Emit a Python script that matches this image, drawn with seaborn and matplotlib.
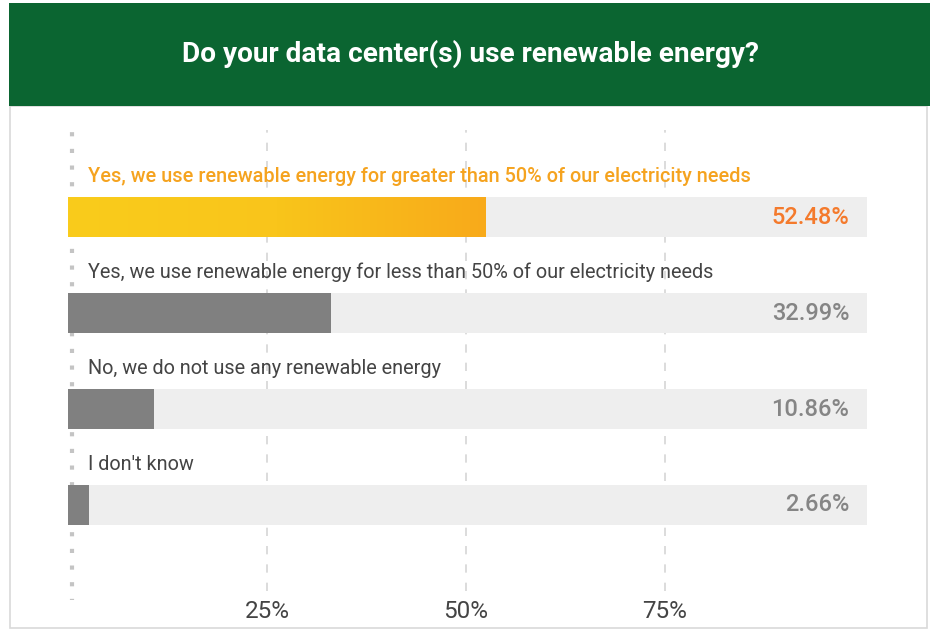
import numpy as np
import pandas as pd
import matplotlib
matplotlib.use("Agg")
import matplotlib.pyplot as plt
from matplotlib.patches import Rectangle
from matplotlib.colors import LinearSegmentedColormap
import seaborn as sns

# Survey answers and their shares (%)
answers = [
    "Yes, we use renewable energy for greater than 50% of our electricity needs",
    "Yes, we use renewable energy for less than 50% of our electricity needs",
    "No, we do not use any renewable energy",
    "I don't know",
]
shares = [52.48, 32.99, 10.86, 2.66]
tick_values = [25, 50, 75]
tick_labels = ["25%", "50%", "75%"]
title = "Do your data center(s) use renewable energy?"

sns.set_theme(style="white")
plt.rcParams["font.family"] = ["Roboto", "DejaVu Sans"]

W, H = 930, 632
fig = plt.figure(figsize=(W / 100, H / 100), dpi=100)
fig.patch.set_facecolor("white")

# Header band and card outline
bg = fig.add_axes([0, 0, 1, 1])
bg.set_xlim(0, W)
bg.set_ylim(H, 0)
bg.axis("off")
bg.add_patch(Rectangle((10, 106), 917, 522, facecolor="white",
                       edgecolor="#d9d9d9", lw=1.2))
bg.add_patch(Rectangle((9, 3), 921, 103, facecolor="#0b6531", edgecolor="none"))
bg.text(470, 54, title, color="white", fontsize=20.2, fontweight="bold",
        ha="center", va="center")

# Chart area in pixel terms
XMAX = 100.4
x0_px, x1_px = 68, 867
top_px, bot_px = 130, 600
ax = fig.add_axes([x0_px / W, 1 - bot_px / H, (x1_px - x0_px) / W, (bot_px - top_px) / H])
ax.set_facecolor("none")

df = pd.DataFrame({"answer": answers, "share": shares, "track": [XMAX] * len(answers)})
bar_w = 40 / 96

sns.barplot(data=df, y="answer", x="track", orient="h", color="#eeeeee",
            width=bar_w, ax=ax, saturation=1, linewidth=0)
sns.barplot(data=df, y="answer", x="share", orient="h", color="#808080",
            width=bar_w, ax=ax, saturation=1, linewidth=0)

ax.set_xlim(0, XMAX)
c0 = -(217 - top_px) / 96
ax.set_ylim(3 + (bot_px - 505) / 96, c0)

# Gradient fill for the leading answer
lead = ax.patches[len(answers)]
lead.set_facecolor("none")
bx, by = lead.get_x(), lead.get_y()
bw, bh = lead.get_width(), lead.get_height()
grad = np.linspace(0, 1, 256).reshape(1, -1)
cmap = LinearSegmentedColormap.from_list("lead", ["#facc1c", "#f9c51b", "#f8aa1a"])
img = ax.imshow(grad, cmap=cmap, aspect="auto",
                extent=(bx, bx + bw, by + bh, by), zorder=3)
img.set_clip_path(lead)

# Gridlines and left baseline
for t in tick_values:
    ax.axvline(t, ymin=0.02, color="#d6d6d6", lw=1.2, ls=(0, (5, 6)), zorder=0)
ax.axvline(0.5, ymin=-0.006, color="#c4c4c4", lw=3, ls=(0, (1, 3)), zorder=0)

# Answer labels and value labels
for i, (lab, v) in enumerate(zip(answers, shares)):
    lead_row = i == 0
    ax.text(2.5, i - 0.425, lab, fontsize=14.3,
            color="#f5a31f" if lead_row else "#444444",
            fontweight="medium" if lead_row else "normal",
            ha="left", va="center", zorder=5)
    ax.text(98.2, i, f"{v:.2f}%", fontsize=17, fontweight="medium",
            color="#f47a2c" if lead_row else "#858585",
            ha="right", va="center", zorder=5)

ax.set_xticks(tick_values)
ax.set_xticklabels(tick_labels, fontsize=17.5, color="#444444")
ax.tick_params(axis="x", length=0, pad=0)
ax.set_yticks([])
ax.set_xlabel("")
ax.set_ylabel("")
for s in ax.spines.values():
    s.set_visible(False)

fig.savefig("out.png", dpi=100)
